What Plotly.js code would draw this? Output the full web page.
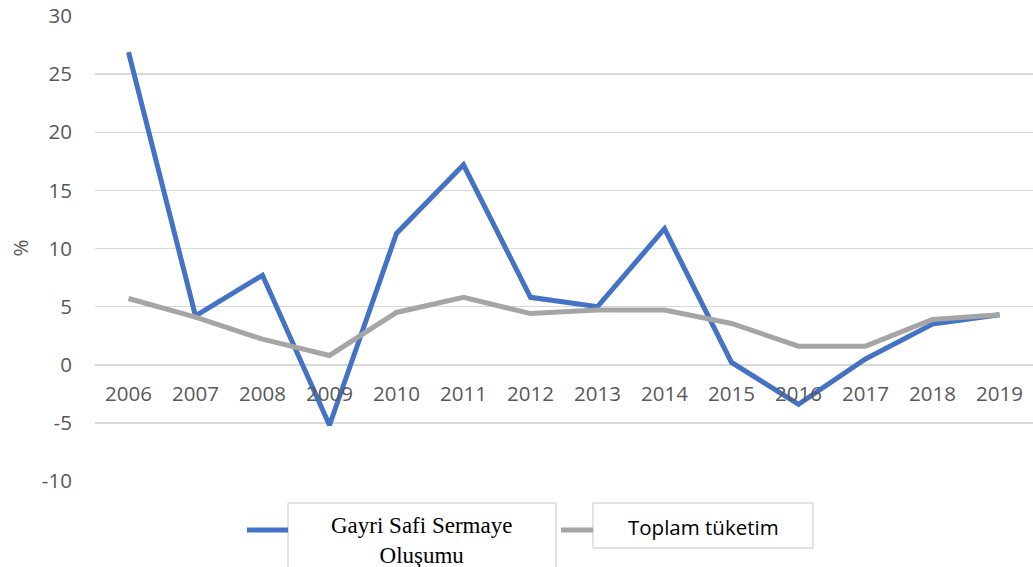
<!DOCTYPE html>
<html>
<head>
<meta charset="utf-8">
<script src="https://cdn.plot.ly/plotly-3.0.1.min.js"></script>
<style>html,body{margin:0;padding:0;background:#fff;}#chart{width:1033px;height:567px;}</style>
</head>
<body>
<div id="chart"></div>
<script>
var years = ["2006","2007","2008","2009","2010","2011","2012","2013","2014","2015","2016","2017","2018","2019"];
var gsso = [26.9, 4.2, 7.7, -5.2, 11.3, 17.2, 5.8, 5.0, 11.7, 0.2, -3.4, 0.5, 3.5, 4.3];
var toplamTuketim = [5.7, 4.1, 2.2, 0.8, 4.5, 5.8, 4.4, 4.7, 4.7, 3.55, 1.6, 1.6, 3.9, 4.3];
var seriesNames = ["Gayri Safi Sermaye<br>Oluşumu", "Toplam tüketim"];
var yTicks = [-10, -5, 0, 5, 10, 15, 20, 25, 30];

var blue = "#4472C4", gray = "#A5A5A5";
var traces = [
  {x: years, y: gsso, type: "scatter", mode: "lines", name: "Gayri Safi Sermaye Oluşumu",
   line: {color: blue, width: 5}},
  {x: years, y: toplamTuketim, type: "scatter", mode: "lines", name: "Toplam tüketim",
   line: {color: gray, width: 5}}
];

var tickFont = {family: "Open Sans, sans-serif", size: 20.5, color: "#595959"};

var layout = {
  width: 1033, height: 567,
  margin: {l: 95, r: 0, t: 16, b: 86},
  paper_bgcolor: "#fff", plot_bgcolor: "#fff",
  showlegend: false,
  font: tickFont,
  xaxis: {
    type: "category", range: [-0.5, 13.5], anchor: "free", position: 0.25,
    showgrid: false, showline: false, zeroline: false,
    ticks: "outside", ticklen: 11, tickcolor: "rgba(0,0,0,0)",
    tickfont: tickFont, fixedrange: true
  },
  yaxis: {
    range: [-10, 30], tickvals: yTicks, ticktext: yTicks.map(String),
    showgrid: true, gridcolor: "#D9D9D9", gridwidth: 1.5,
    zeroline: false, showline: false,
    ticks: "outside", ticklen: 18, tickcolor: "rgba(0,0,0,0)",
    tickfont: tickFont, automargin: false, fixedrange: true
  },
  shapes: [
    {type: "rect", xref: "paper", yref: "paper", x0: 0.2058, x1: 0.4915, y0: -0.20, y1: -0.0473,
     line: {color: "#C8C8C8", width: 1}, fillcolor: "#fff", layer: "above"},
    {type: "rect", xref: "paper", yref: "paper", x0: 0.5309, x1: 0.7655, y0: -0.1441, y1: -0.0473,
     line: {color: "#C8C8C8", width: 1}, fillcolor: "#fff", layer: "above"},
    {type: "line", xref: "paper", yref: "paper", x0: 0.1620, x1: 0.2058, y0: -0.1054, y1: -0.1054,
     line: {color: blue, width: 5}, layer: "above"},
    {type: "line", xref: "paper", yref: "paper", x0: 0.4968, x1: 0.5309, y0: -0.1054, y1: -0.1054,
     line: {color: gray, width: 5}, layer: "above"}
  ],
  annotations: [
    {xref: "paper", yref: "paper", x: 0.3486, y: -0.1269, text: seriesNames[0], showarrow: false,
     xanchor: "center", yanchor: "middle", align: "center",
     font: {family: "Liberation Serif, Times New Roman, serif", size: 23, color: "#000"}},
    {xref: "paper", yref: "paper", x: 0.6482, y: -0.0989, text: seriesNames[1], showarrow: false,
     xanchor: "center", yanchor: "middle",
     font: {family: "Open Sans, sans-serif", size: 20.5, color: "#000"}},
    {xref: "paper", yref: "paper", x: -0.08, y: 0.502, text: "%", showarrow: false, textangle: -90,
     xanchor: "center", yanchor: "middle",
     font: {family: "Open Sans, sans-serif", size: 20.5, color: "#595959"}}
  ]
};

Plotly.newPlot("chart", traces, layout, {displayModeBar: false, staticPlot: true});
</script>
</body>
</html>
